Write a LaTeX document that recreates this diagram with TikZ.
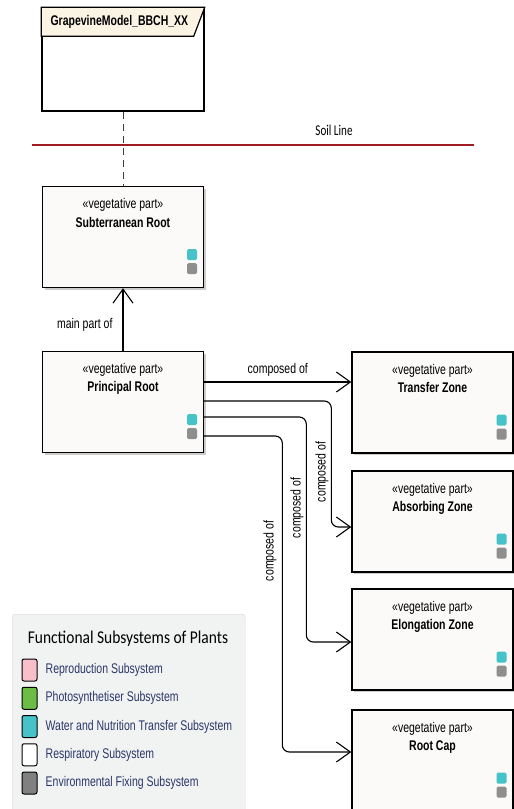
\documentclass[tikz,border=0pt]{standalone}
\usepackage{fontspec}
\setmainfont{Liberation Sans}[FakeStretch=0.75]
\newfontfamily\calfont{Carlito}[FakeStretch=0.86]
\newfontfamily\soilfont{Carlito}[FakeStretch=0.74]
\usetikzlibrary{positioning,arrows.meta,shadows}

\definecolor{partfill}{HTML}{FBFAF8}
\definecolor{headfill}{HTML}{FBF3E4}
\definecolor{soil}{HTML}{9E1C22}
\definecolor{watercyan}{HTML}{45C3C8}
\definecolor{fixgray}{HTML}{8E8E8E}
\definecolor{legfill}{HTML}{F1F2F2}
\definecolor{legline}{HTML}{D3D5D5}
\definecolor{legtext}{HTML}{2A3769}
\definecolor{reprpink}{HTML}{F8BFCB}
\definecolor{photgreen}{HTML}{6BBD45}
\definecolor{legdark}{HTML}{808080}

\tikzset{
  part/.style={draw, line width=1.4pt, fill=partfill, minimum width=161pt, minimum height=101pt, inner sep=0pt,
    drop shadow={shadow xshift=2pt, shadow yshift=-2pt, fill=black, opacity=.2}},
  parttext/.style={anchor=base, font=\fontsize{14}{17}\selectfont, inner sep=0pt},
  ind/.style={rounded corners=1.5pt, minimum width=10pt, minimum height=11pt, inner sep=0pt, anchor=south east},
  conn/.style={line width=1.1pt, -{Straight Barb[length=14pt,width=20pt]}, rounded corners=7pt},
  lbl/.style={font=\fontsize{14}{17}\selectfont, inner sep=0pt},
  swatch/.style={draw, line width=1pt, rounded corners=2pt, minimum width=15pt, minimum height=22pt, inner sep=0pt},
  legentry/.style={anchor=west, font=\fontsize{14}{17}\selectfont, text=legtext, inner sep=0pt},
}

\begin{document}
\begin{tikzpicture}[x=1pt,y=-1pt]
\useasboundingbox (0,0) rectangle (514,809);

% model frame
\node[draw, line width=1.4pt, fill=white, minimum width=162pt, minimum height=103pt, inner sep=0pt] (model) at (123,59.5) {};
\draw[fill=headfill, line width=1.2pt] (model.north west) -- (model.north east) -- ([xshift=-11pt,yshift=-29pt]model.north east) -- ([yshift=-29pt]model.north west) -- cycle;
\node[anchor=west, inner sep=0pt, font=\fontsize{14}{17}\selectfont\bfseries] (model-name) at ([xshift=9pt,yshift=-15pt]model.north west) {GrapevineModel\_BBCH\_XX};

% soil line
\coordinate (soil-w) at (32,145);
\coordinate (soil-e) at (474,145);
\draw[soil, line width=2.6pt] (soil-w) -- (soil-e);
\node[font=\soilfont\fontsize{15}{17}\selectfont, inner sep=0pt] (soil-lbl) at (334,130) {Soil Line};

% left parts
\node[part] (subroot) at (123,237) {};
\node[parttext] (subroot-st) at ([yshift=-23pt]subroot.north) {«vegetative part»};
\node[parttext, font=\fontsize{14}{17}\selectfont\bfseries] (subroot-nm) at ([yshift=-42pt]subroot.north) {Subterranean Root};

\node[part] (principal) at (123,402) {};
\node[parttext] (principal-st) at ([yshift=-23pt]principal.north) {«vegetative part»};
\node[parttext, font=\fontsize{14}{17}\selectfont\bfseries] (principal-nm) at ([yshift=-41pt]principal.north) {Principal Root};

% right parts
\foreach \nm/\yc/\ttl in {transfer/402.5/Transfer Zone, absorbing/521.5/Absorbing Zone, elongation/639.5/Elongation Zone, rootcap/760.5/Root Cap}{
  \node[part] (\nm) at (432.5,\yc) {};
  \node[parttext] (\nm-st) at ([yshift=-23pt]\nm.north) {«vegetative part»};
  \node[parttext, font=\fontsize{14}{17}\selectfont\bfseries] (\nm-nm) at ([yshift=-41pt]\nm.north) {\ttl};
}

% subsystem marks
\foreach \nm in {subroot, principal, transfer, absorbing, elongation, rootcap}{
  \node[ind, fill=watercyan] (\nm-w) at ([xshift=-7pt,yshift=28pt]\nm.south east) {};
  \node[ind, fill=fixgray] (\nm-f) at ([xshift=-7pt,yshift=14pt]\nm.south east) {};
}

% connectors
\draw[dashed, dash pattern=on 7pt off 5pt, line width=1pt, black!75] (model.south) -- (subroot.north);
\draw[conn] (principal.north) -- node[lbl, pos=.42, left=10pt] (mainpart) {main part of} (subroot.south);

\coordinate (p1) at ([yshift=20pt]principal.east);
\coordinate (p2) at ([yshift=1pt]principal.east);
\coordinate (p3) at ([yshift=-15pt]principal.east);
\coordinate (p4) at ([yshift=-34pt]principal.east);

\draw[conn] (p1) -- node[lbl, midway, above=5pt] (comp1) {composed of} (p1 -| transfer.west);
\draw[conn] (p2) -| ([xshift=-20pt,yshift=-5.5pt]absorbing.west) -- ([yshift=-5.5pt]absorbing.west);
\draw[conn] (p3) -| ([xshift=-45pt,yshift=-2.5pt]elongation.west) -- ([yshift=-2.5pt]elongation.west);
\draw[conn] (p4) -| ([xshift=-69pt,yshift=8.5pt]rootcap.west) -- ([yshift=8.5pt]rootcap.west);

\node[lbl, rotate=90] (comp2) at (322,472) {composed of};
\node[lbl, rotate=90] (comp3) at (297,508) {composed of};
\node[lbl, rotate=90] (comp4) at (270,551) {composed of};

% legend
\node[draw=legline, fill=legfill, rounded corners=3pt, minimum width=233pt, minimum height=205pt, inner sep=0pt, anchor=north west] (legend) at (12,614) {};
\node[font=\calfont\fontsize{18}{20}\selectfont, inner sep=0pt] (leg-title) at (128,639) {Functional Subsystems of Plants};
\foreach \col/\txt [count=\i] in {reprpink/Reproduction Subsystem, photgreen/Photosynthetiser Subsystem, watercyan/Water and Nutrition Transfer Subsystem, white/Respiratory Subsystem, legdark/Environmental Fixing Subsystem}{
  \node[swatch, fill=\col] (sw\i) at (29.5,{670+28.25*(\i-1)}) {};
  \node[legentry] (leg\i) at ([xshift=8pt]sw\i.east) {\txt};
}
\end{tikzpicture}
\end{document}
